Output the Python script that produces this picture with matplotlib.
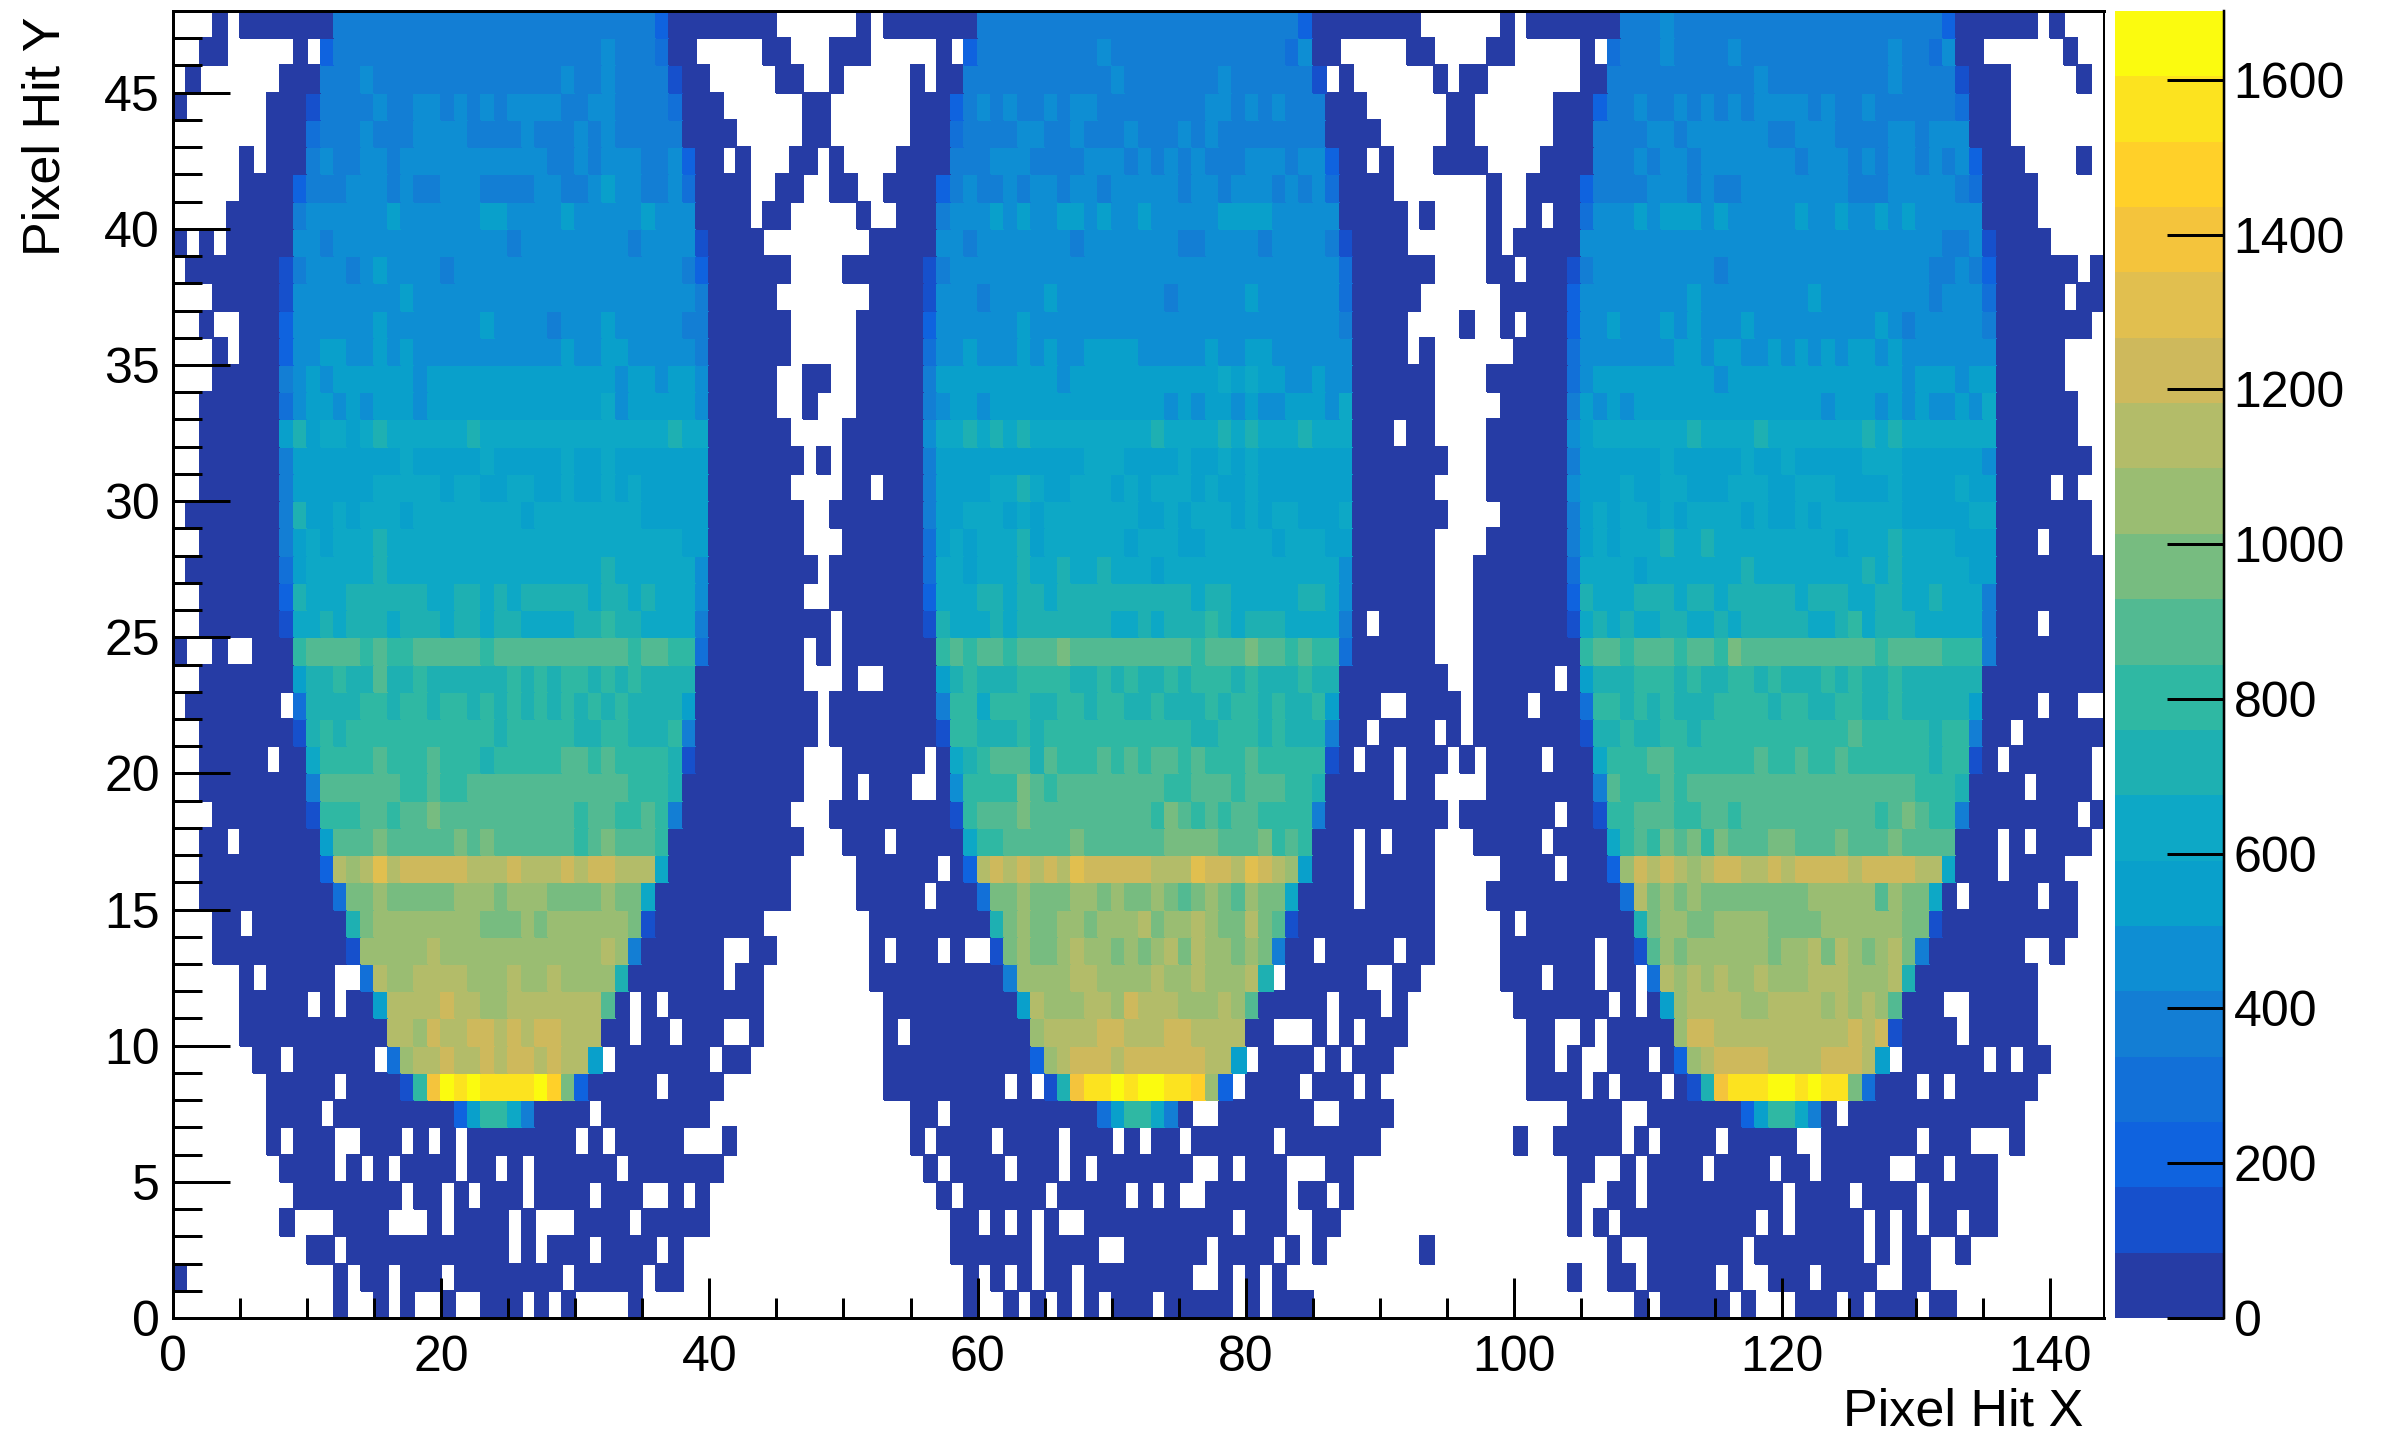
import numpy as np
import matplotlib
matplotlib.use("Agg")
import matplotlib.pyplot as plt
from matplotlib.colors import ListedColormap, BoundaryNorm

plt.rcParams['font.family'] = ['Liberation Sans', 'DejaVu Sans']

# Each row (top, y=47, to bottom, y=0) is read off the picture as runs: first char = colour band
# ('.' empty, 0-9 then a-j = band number), remaining digits = number of pixels in that run.
MODULE_LEFT = [
".3 01 .1 07 424 21 08 .3",
".2 02 .5 01 .1 21 420 51 43 31 02 .5 02 .2",
".1 01 .6 03 43 51 414 51 42 51 44 11 02 .5 02 .1",
"01 .6 03 11 44 51 42 52 41 51 41 51 41 54 42 52 44 31 03 .6 01",
".7 03 31 43 51 43 54 44 51 43 51 41 51 45 04 .5 01",
".5 01 .1 03 41 51 42 52 41 511 42 51 41 53 42 51 21 02 .1 01 .3 02",
".5 04 21 43 53 41 51 42 53 44 52 42 51 61 52 42 51 31 04 .2 02 .1",
".4 05 41 56 61 56 62 54 61 55 61 53 04 .1 02 .2",
"01 .1 01 .1 05 52 41 513 41 58 41 54 11 04 .4",
".1 07 11 41 53 41 51 61 54 41 517 41 21 06 .2",
".3 05 11 58 61 521 41 05 .3",
".2 01 .2 03 21 56 61 57 61 54 41 53 61 55 42 06 .2",
".3 01 .1 03 21 52 62 52 61 51 61 511 61 52 62 55 41 06 .2",
".3 05 41 51 61 51 66 51 614 51 62 51 62 51 05 .2 01",
".2 06 31 51 62 51 61 51 63 51 613 71 51 65 51 05 .2 01",
".2 06 61 81 61 72 61 71 81 76 81 714 81 72 06 .2",
".2 06 41 68 71 65 71 65 71 62 71 67 07 .1",
".2 06 41 66 75 61 72 62 72 62 71 62 71 61 71 65 06 .2",
".1 07 41 81 62 71 61 73 61 78 61 78 65 07 .1",
".2 06 41 61 71 61 73 81 722 62 07 .1",
".1 07 31 61 75 81 716 81 76 51 08",
".2 06 21 81 73 86 72 82 71 81 71 85 71 82 71 81 73 51 07 .1",
".2 06 11 72 81 71 83 71 83 71 82 71 82 74 82 91 82 74 41 08",
"01 .2 01 .2 03 91 a4 91 a1 92 a5 91 a10 91 a2 92 31 07 .1",
".2 07 61 82 91 82 a1 82 91 86 91 81 91 81 92 81 91 81 91 84 08 .1",
".1 07 .1 31 84 92 81 92 81 92 81 91 81 91 81 91 81 91 81 91 81 91 84 61 09",
".2 07 11 81 91 81 911 81 95 82 92 83 91 41 09",
".2 05 .1 02 71 94 a1 93 a1 93 81 95 a2 91 a1 94 81 11 08 .1",
".2 08 41 a6 92 a1 92 a12 93 81 09 .1",
".3 07 11 93 a2 91 a2 b1 a10 91 a2 92 a1 91 41 08 .2",
".2 02 .1 06 61 a3 b1 a5 b1 a1 b1 a6 91 a1 b1 a3 91 010 .1",
".2 09 21 d1 c1 d1 f1 d1 e5 d3 e1 d3 e1 d1 e2 d3 71 09 .2",
".2 010 31 b2 c1 b5 c3 b1 c3 b4 c1 b2 71 010 .2",
".3 02 .1 07 81 b1 c8 b3 c1 b1 c6 b1 11 08 .4",
".3 010 11 c5 d1 c12 d1 c1 41 06 .2 02 .3",
".5 01 .1 05 .2 31 d1 c2 d4 c3 d1 c2 d1 c4 81 07 .1 02 .4",
".5 05 .1 01 .1 02 61 d4 e1 d2 c2 d7 a1 01 .1 01 .1 07 .4",
".5 011 d2 c1 e1 d2 e2 d1 e1 d1 e2 d3 02 .1 02 .1 03 .2 01 .4",
".6 02 .1 06 .1 31 c1 d2 e1 d2 e1 d1 e2 d1 e1 d2 61 .1 07 .1 02 .5",
".7 05 .1 04 11 91 g1 j1 i1 j1 i4 j1 h1 b1 21 05 .1 04 .7",
".7 04 .1 09 21 61 92 71 41 04 .1 08 .8",
".7 01 .1 03 .2 03 .1 01 .1 01 .1 08 .1 01 .1 05 .3 01 .6",
".8 04 .1 01 .1 01 .1 04 .1 02 .1 01 .1 06 .1 07 .7",
".9 08 .1 02 .1 01 .1 03 .1 04 .1 03 .2 01 .1 01 .8",
".8 01 .3 04 .3 01 .1 04 .1 01 .3 04 .1 05 .8",
".10 02 .1 012 .1 01 .1 03 .1 04 .1 01 .10",
"01 .11 01 .1 02 .1 03 .1 08 .1 05 .1 02 .10",
".12 01 .2 01 .1 01 .2 01 .2 03 .1 01 .1 01 .4 01 .13",
]

MODULE_MIDDLE = [
".3 01 .1 07 424 21 08 .3",
".1 03 .5 01 .1 21 49 51 413 31 51 02 .5 02 .2",
".1 01 .5 01 .1 02 411 51 47 51 46 11 .1 01 .6 01 .1",
"01 .6 03 21 41 51 41 51 42 51 41 52 48 52 41 51 41 51 43 03 .6 01",
"01 .6 03 31 44 52 42 51 43 51 43 51 41 51 48 04 .5 01",
".1 01 .4 04 43 53 44 53 41 51 41 51 41 51 43 53 41 52 21 02 .1 01 .3 02",
".1 02 .2 04 21 41 51 42 51 41 52 41 52 41 55 41 52 41 53 41 51 41 51 31 04 .5",
".3 01 .2 03 41 53 61 51 61 52 62 51 61 52 61 55 64 55 05 .1 01 .2",
".4 05 52 41 57 41 57 42 54 41 54 41 11 04 .4",
".2 06 11 41 529 31 06 .2",
".4 04 11 53 41 54 61 58 41 55 61 56 31 05 .3",
".3 05 21 56 61 523 41 04 .4",
".3 05 31 52 61 53 61 51 61 52 64 55 61 52 62 56 04 .1 01 .2",
"01 .2 05 41 69 51 611 71 61 71 62 52 61 52 06 .2",
".3 05 41 51 62 51 613 51 61 51 62 51 61 52 63 51 71 06 .2",
".2 06 51 72 81 71 81 71 81 79 81 74 81 71 81 73 81 73 03 .1 02 .2",
"01 .1 06 41 611 73 64 71 62 71 61 71 67 07 .1",
".2 02 .1 03 41 64 72 81 71 62 73 61 71 61 73 61 71 62 71 67 06 .2",
".1 07 41 62 73 61 71 61 77 62 71 61 73 61 71 61 72 63 71 07 .1",
".2 06 31 61 71 61 73 81 61 76 61 73 62 75 61 73 62 06 .2",
".1 07 31 72 61 73 81 72 81 72 81 73 61 713 51 06 .2",
".1 07 21 73 82 71 82 71 810 71 82 75 82 71 51 06 .2",
"01 .1 06 11 81 73 81 71 87 72 81 71 83 91 81 71 83 74 41 01 .1 04 .2",
"01 .1 07 91 a1 91 a2 91 a3 b1 a9 91 a3 b1 a2 91 a1 92 31 06 .2",
".2 01 .2 04 61 81 91 83 94 82 91 81 91 82 91 81 93 81 91 83 91 82 08 .1",
".1 08 41 92 71 93 82 92 81 92 82 91 83 91 81 92 81 91 82 91 61 03 .2 04",
".1 08 11 92 83 91 81 911 82 93 81 91 83 41 02 .1 04 .1 01",
".2 06 .1 01 71 81 91 a3 81 a1 93 a1 91 a1 91 a2 91 a1 93 a1 95 11 01 .1 02 .1 03 .1",
".2 01 .1 03 .2 01 51 94 b1 a1 91 a8 92 a3 91 a3 92 81 05 .1 02 .2",
".1 09 11 91 a3 b1 a9 91 b1 a1 91 a1 91 a2 94 41 09 .1",
".2 03 .1 05 71 92 a5 b1 a6 b4 a3 b1 91 a1 91 03 .1 01 .1 03 .2",
".3 06 .1 01 21 d1 e1 d1 e1 d1 e1 d1 f1 e5 d3 f1 e2 d1 f1 e1 d1 c1 61 03 .1 05 .2",
".3 05 .1 03 31 b2 c1 b3 c2 b1 c1 b2 c1 b1 a1 b1 c1 b1 a1 c1 b2 71 04 .1 05 .2",
".4 09 81 b1 c1 b2 c2 b1 c3 d1 b1 c2 d1 c1 b2 d1 b1 a1 11 010 .2",
".4 01 .1 03 .1 01 .2 11 b1 c1 b2 c1 d1 c2 b1 c1 b1 c1 d1 b1 d1 c2 b1 c1 b1 41 02 .1 05 .1 02 .2",
".4 010 41 c4 d2 c4 d1 c2 d1 c3 d1 81 .1 06 .2 02 .3",
".5 010 61 d1 c3 d2 c1 e1 d3 c3 d1 c1 a1 05 .1 03 .1 01 .4",
".5 01 .1 09 c1 d4 e2 d3 e2 d4 02 .3 01 .1 01 .1 03 .4",
".5 011 21 c1 d1 e3 d1 e6 d2 61 .1 04 .1 01 .1 03 .5",
".5 09 .1 01 .1 11 81 g1 i2 j1 i1 j2 i2 h1 c1 21 .1 04 .1 03 .1 01 .6",
".7 02 .1 011 31 61 92 71 41 01 .2 07 .2 04 .5",
".7 01 .1 04 .1 04 .1 03 .1 01 .1 02 .1 06 .1 07 .6",
".8 01 .1 04 .1 03 .1 01 .1 07 .2 01 .1 03 .3 02 .8",
".9 01 .1 06 .1 05 .1 01 .1 01 .2 06 .1 02 .1 01 .8",
".10 02 .1 01 .1 01 .1 01 .2 011 .1 03 .2 02 .9",
".10 06 .1 04 .2 06 .1 04 .1 01 .1 01 .7 01 .2",
".11 01 .1 01 .1 01 .1 02 .1 08 .2 01 .1 01 .1 01 .13",
".11 01 .2 01 .1 01 .1 01 .1 01 .1 03 .1 05 .1 01 .1 03 .11",
]

MODULE_RIGHT = [
".3 01 .1 07 43 51 420 21 06 .1 01 .3",
".2 02 .5 01 .1 31 43 51 44 51 411 51 42 31 51 02 .6 01 .2",
"02 .7 02 411 51 49 51 44 11 03 .5 01 .1",
"01 .6 03 21 42 51 42 51 41 51 41 51 41 54 41 51 42 51 46 31 03 .7",
"01 .6 03 44 52 41 56 42 53 44 52 41 53 03 .7",
"02 .4 04 43 51 41 52 41 57 41 53 41 51 41 52 41 51 41 51 21 03 .4 01 .1",
".2 01 .2 04 21 44 53 41 51 42 58 43 55 41 31 04 .5",
".2 01 .2 01 .1 02 31 53 61 51 63 51 61 55 61 52 61 52 61 51 61 55 04 .5",
".2 01 .1 05 527 42 51 11 04 .4",
".2 02 .1 03 11 41 59 41 515 42 51 41 21 06 .1 01",
".3 05 21 58 61 58 61 58 41 53 31 05 .1 02",
"01 .2 01 .1 03 21 52 61 53 61 51 61 53 61 59 61 51 41 55 41 07 .1",
".4 04 31 57 62 51 62 52 61 51 61 51 61 51 62 51 61 57 05 .3",
".2 06 31 51 69 51 613 51 63 51 62 05 .3",
".3 05 41 61 51 61 51 614 51 63 51 61 51 61 52 61 51 71 06 .2",
".2 06 51 61 77 81 74 81 77 81 71 81 76 71 06 .2",
".2 06 41 66 71 65 71 62 71 65 73 66 51 07 .1",
".2 06 51 63 71 62 72 63 73 62 73 64 71 64 71 62 04 .1 01 .2",
".3 05 41 61 71 61 72 61 71 61 74 61 71 62 71 61 76 65 72 07 .1",
".2 06 41 61 71 61 73 81 72 81 79 61 73 81 74 63 03 .1 03 .1",
".1 07 31 74 61 77 81 78 81 71 81 75 62 08",
".1 07 21 81 73 83 71 82 71 85 71 83 72 82 72 81 73 41 08",
".1 07 11 71 81 71 81 72 82 72 81 71 85 72 81 91 71 83 75 41 03 .1 04",
".1 08 91 a2 91 a3 91 a2 91 b1 a10 91 a4 93 41 08",
".1 06 .1 01 61 83 93 81 91 82 92 81 91 83 91 81 91 82 91 86 09",
".1 04 .1 03 31 92 81 91 81 91 83 94 81 92 82 92 82 91 85 61 04 .1 02 .2",
".1 08 11 82 91 82 92 81 911 a1 95 81 92 41 02 .1 06",
"01 .1 04 .1 03 71 93 a2 96 a1 92 a1 92 a1 96 81 92 11 01 .1 06 .1",
".2 08 41 a1 93 a1 91 a17 93 81 04 .1 04 .1",
"07 .1 02 11 92 a3 92 a2 91 a10 91 a1 b1 a1 92 41 08 .1 01",
".1 05 .1 04 71 91 a1 91 b1 a1 b1 91 b1 a3 b2 a3 b1 a3 b1 a4 03 .1 01 .1 04 .1",
".3 04 .1 03 21 c1 e1 d1 e1 d1 c1 d1 e2 d2 e1 d1 e4 d1 e4 d2 71 03 .1 04 .3",
".2 010 31 d1 b1 c1 b1 c1 b8 c5 a1 c1 b2 71 01 .1 05 .1 02 .2",
".3 01 .1 08 81 b1 c2 b2 c4 b4 c6 b2 11 010 .2",
".3 07 .1 02 11 a1 c1 b1 c6 b1 c2 d1 b1 d1 c1 b1 c1 d1 b1 41 07 .2 01 .3",
".3 03 .1 03 .1 02 .1 31 d1 c1 d1 c1 d1 c2 d1 c3 d3 c3 d1 81 09 .5",
".4 07 .1 01 .1 01 61 c1 d4 c2 d4 c1 d1 c1 d1 c1 a1 03 .2 05 .5",
".5 02 .2 01 .1 05 c1 e2 d10 e1 d1 e1 11 04 .1 05 .5",
".5 02 .1 01 .2 03 .1 01 21 c1 d1 e4 d4 e3 d1 61 .1 06 .1 01 .1 02 .4",
".5 04 .1 01 .1 03 .1 01 11 81 g1 i3 j2 i1 j1 i2 b1 31 03 .1 01 .1 06 .5",
".8 04 .2 07 21 61 92 71 41 01 .1 013 .6",
".4 01 .2 05 .1 01 .1 04 .1 05 .2 07 .1 03 .3 01 .6",
".8 02 .2 01 .1 04 .1 04 .1 02 .1 05 .2 02 .1 03 .8",
".8 01 .2 02 .1 010 .1 04 .1 04 .1 05 .8",
".8 01 .1 01 .1 010 .1 01 .1 05 .1 01 .1 01 .1 02 .1 02 .8",
".11 01 .2 07 .1 08 .1 01 .1 02 .2 01 .10",
".8 01 .2 02 .1 05 .1 01 .2 03 .1 04 .2 02 .13",
".13 01 .1 05 .1 01 .3 03 .1 01 .1 03 .1 02 .11",
]

BAND_COLORS = ["#263CA5", "#1650CC", "#0F63DF", "#1270D8", "#137ED4", "#0E8ED3", "#09A0CB",
               "#0DA8C6", "#1EB0B2", "#2FB8A3", "#52BA92", "#77BC80", "#9ABD72", "#B3BC69",
               "#CEB95C", "#E1BF4F", "#F4C43C", "#FFD029", "#FCE31F", "#FBFB0F"]
Z_MAX = 1689.0
X_LABEL = "Pixel Hit X"
Y_LABEL = "Pixel Hit Y"
CBAR_TICKS = [0, 200, 400, 600, 800, 1000, 1200, 1400, 1600]

SYMBOLS = "0123456789abcdefghij"
n_bands = len(BAND_COLORS)
band_edges = np.linspace(0, Z_MAX, n_bands + 1)
band_mid = 0.5 * (band_edges[:-1] + band_edges[1:])


def decode(row, where):
    out = []
    for token in row.split():
        sym, count = token[0], int(token[1:])
        out += [np.nan if sym == "." else band_mid[SYMBOLS.index(sym)]] * count
    if len(out) != 48:
        raise ValueError(f"{where}: {len(out)} cells")
    return out


rows = []
for i in range(48):
    rows.append(decode(MODULE_LEFT[i], f"L{i}") + decode(MODULE_MIDDLE[i], f"M{i}") + decode(MODULE_RIGHT[i], f"R{i}"))
grid = np.array(rows)[::-1]

W, H = 2381, 1436
fig = plt.figure(figsize=(W / 100, H / 100), dpi=100, facecolor="white")
L, R, T, B = 173, 2104, 11, 1318
ax = fig.add_axes([L / W, 1 - B / H, (R - L) / W, (B - T) / H])
cmap = ListedColormap(BAND_COLORS)
norm = BoundaryNorm(band_edges, n_bands)
mesh = ax.pcolormesh(np.arange(145), np.arange(49), np.ma.masked_invalid(grid), cmap=cmap, norm=norm,
                     edgecolors="face", linewidth=0.2)
ax.set_xlim(0, 144)
ax.set_ylim(0, 48)
ax.set_xticks(np.arange(0, 141, 20))
ax.set_xticks(np.arange(0, 144, 5), minor=True)
ax.set_yticks(np.arange(0, 46, 5))
ax.set_yticks(np.arange(0, 48, 1), minor=True)
PT = 72 / 100
ax.tick_params(axis="x", which="major", direction="in", length=40 * PT, width=3 * PT, labelsize=36, pad=12.5)
ax.tick_params(axis="x", which="minor", direction="in", length=20 * PT, width=3 * PT)
ax.tick_params(axis="y", which="major", direction="in", length=57 * PT, width=3 * PT, labelsize=36, pad=9.5)
ax.tick_params(axis="y", which="minor", direction="in", length=29 * PT, width=3 * PT)
for name, sp in ax.spines.items():
    sp.set_linewidth((3 if name != "right" else 2) * PT)
    sp.set_zorder(5)
fig.text(2083 / W, 1 - 1412 / H, X_LABEL, ha="right", va="center", fontsize=37.5)
fig.text(46 / W, 1 - 17 / H, Y_LABEL, rotation=90, ha="center", va="top", fontsize=37.5)

cax = fig.add_axes([2115 / W, 1 - B / H, (2224 - 2115) / W, (B - T) / H])
cb = fig.colorbar(mesh, cax=cax, ticks=CBAR_TICKS, spacing="proportional", drawedges=False)
cb.minorticks_off()
cb.outline.set_visible(False)
cax.spines["right"].set_visible(True)
cax.tick_params(axis="y", which="major", direction="in", length=57 * PT, width=3 * PT, labelsize=36, pad=7, right=True)
cax.plot([1, 1], [0, 1], transform=cax.transAxes, color="black", lw=2.5 * PT, clip_on=False, zorder=6)
cb.set_ticklabels([str(t) for t in CBAR_TICKS])

fig.savefig("out.png", dpi=100)
